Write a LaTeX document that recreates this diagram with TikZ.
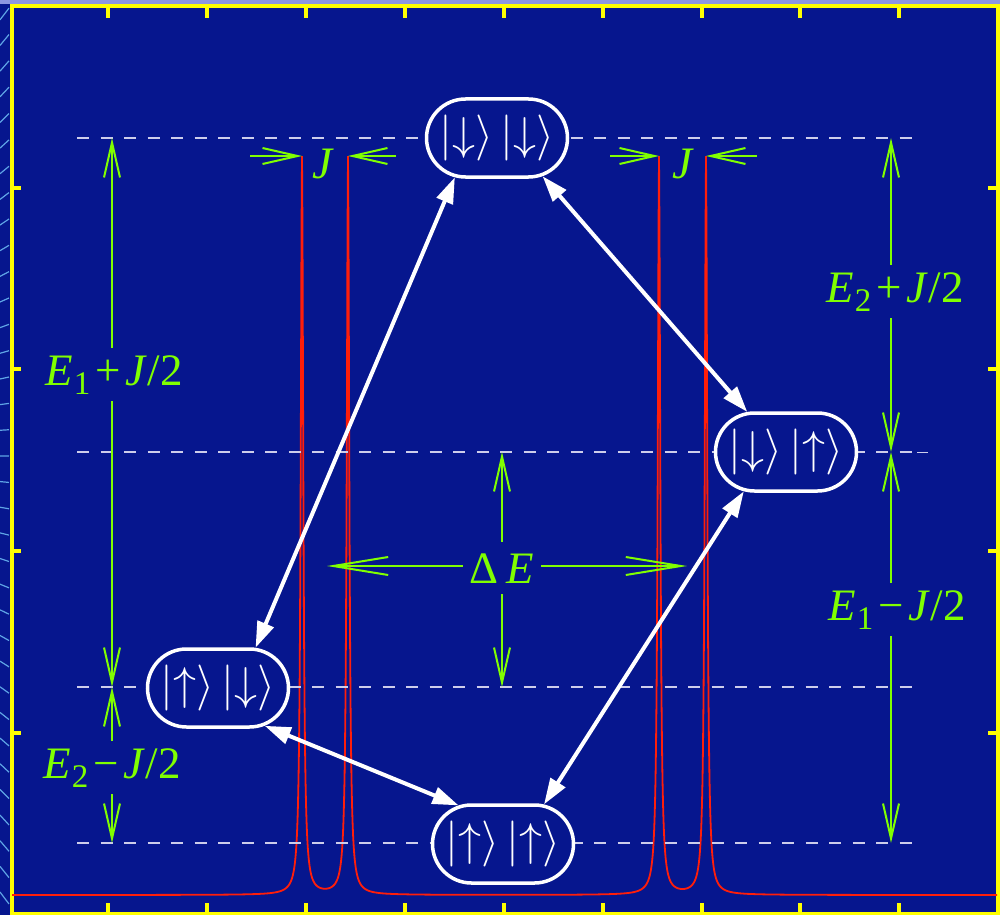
\documentclass[tikz,border=0pt]{standalone}
\usepackage{fontspec}
\newfontfamily\labfont{Liberation Serif}
\usetikzlibrary{arrows.meta,shapes.misc,calc}
\definecolor{bgnavy}{RGB}{6,22,142}
\definecolor{glime}{RGB}{128,255,0}
\definecolor{dashc}{RGB}{205,205,235}
\definecolor{fyellow}{RGB}{255,255,0}
\definecolor{pred}{RGB}{255,30,10}
\definecolor{stripc}{RGB}{95,165,230}
\definecolor{topc}{RGB}{140,150,225}
\newcommand\Elab[2]{{\labfont\fontsize{45}{45}\selectfont\textit{E}\kern1pt\raisebox{-9pt}{\fontsize{33}{33}\selectfont #1}\hspace{5pt}#2\hspace{5pt}\textit{J}/2}}
\newcommand\ketpair[2]{\scalebox{4.6}{$|{#1}\rangle\,|{#2}\rangle$}}
\newcommand\Jlab{{\labfont\fontsize{45}{45}\selectfont\textit{J}}}
\tikzset{
 ketbox/.style={rounded rectangle, draw=white, line width=3.5pt, fill=bgnavy, text=white, minimum width=141pt, minimum height=78pt, inner sep=0pt},
 lvl/.style={dashc, line width=2pt, dash pattern=on 12pt off 11.5pt},
 glab/.style={text=glime, inner xsep=4pt, inner ysep=7pt, anchor=base},
 gline/.style={glime, line width=2pt},
 gtip/.style={-{Straight Barb[length=35pt,width=16pt]}},
 gtipl/.style={-{Straight Barb[length=55pt,width=18pt]}},
 warrow/.style={white, line width=4pt, {Triangle[length=26pt,width=17pt]}-{Triangle[length=26pt,width=17pt]}},
 redline/.style={pred, line width=1.8pt},
 tickmark/.style={fyellow, line width=4pt},
}
\begin{document}
\begin{tikzpicture}[x=1pt,y=-1pt,declare function={lz(\t)=738*pow(1.5/veclen(\t,1.5),2);}]
\useasboundingbox (0,0) rectangle (1006,915);
\fill[bgnavy] (0,0) rectangle (1006,915);
\fill[white] (1000,0) rectangle (1006,915);
\fill[topc] (0,0) rectangle (1000,4);
\foreach \yy in {14,40,...,900} \draw[stripc, line width=1.2pt] (0,{\yy+(450-\yy)/75}) -- (9,{\yy-(450-\yy)/75});
% frame and ticks
\draw[fyellow, line width=3.8pt] (11.7,6.2) rectangle (998,913.5);
\foreach \xx in {108,207,306,405,504,603,702,800,899} {
  \draw[tickmark] (\xx,8) -- (\xx,18);
  \draw[tickmark] (\xx,912) -- (\xx,903);
}
\foreach \yy in {188,369,551,733} {
  \draw[tickmark] (13,\yy) -- (21,\yy);
  \draw[tickmark] (996,\yy) -- (988,\yy);
}
% spectrum
\draw[redline] plot[domain=12:997, samples=1971] (\x,{895-lz(\x-302)-lz(\x-348)-lz(\x-659)-lz(\x-706)});
% levels
\foreach \yy in {138,452,687,843} \draw[lvl] (77,\yy) -- (917,\yy);
\draw[dashc, line width=0.7pt] (917,452) -- (928,452);
% states
\node[ketbox] (dd) at (497,138) {\ketpair{\downarrow}{\downarrow}};
\node[ketbox] (du) at (786,452) {\ketpair{\downarrow}{\uparrow}};
\node[ketbox] (ud) at (218,688) {\ketpair{\uparrow}{\downarrow}};
\node[ketbox] (uu) at (503,844) {\ketpair{\uparrow}{\uparrow}};
% transitions
\draw[warrow] (dd.-137) -- (ud.47);
\draw[warrow] (dd.-40) -- (du.134);
\draw[warrow] (du.-137) -- (uu.44);
\draw[warrow] (ud.-39) -- (uu.139);
% labels
\node[glab] (L1) at (114,385) {\Elab{1}{+}};
\node[glab] (L2) at (112,778) {\Elab{2}{−}};
\node[glab] (L3) at (895,302) {\Elab{2}{+}};
\node[glab] (L4) at (897,620) {\Elab{1}{−}};
\node[glab, inner xsep=7pt, inner ysep=11pt] (DE) at (502,583) {{\labfont\fontsize{45}{45}\selectfont Δ\hspace{8pt}\textit{E}}};
\node[glab] (J1) at (323,178) {\Jlab};
\node[glab] (J2) at (683,178) {\Jlab};
\coordinate (t1) at (112,138); \coordinate (m1) at (112,687); \coordinate (b1) at (112,843);
\coordinate (t2) at (891,138); \coordinate (m2) at (891,452); \coordinate (b2) at (891,843);
\coordinate (d1) at (502,452); \coordinate (d2) at (502,687);
\coordinate (d3) at (327,566); \coordinate (d4) at (687,566);
\draw[gline,gtip] (t1 |- L1.north) -- (t1);
\draw[gline,gtip] (t1 |- L1.south) -- (m1);
\draw[gline,gtip] (t1 |- L2.north) -- (m1);
\draw[gline,gtip] (t1 |- L2.south) -- (b1);
\draw[gline,gtip] (t2 |- L3.north) -- (t2);
\draw[gline,gtip] (t2 |- L3.south) -- (m2);
\draw[gline,gtip] (t2 |- L4.north) -- (m2);
\draw[gline,gtip] (t2 |- L4.south) -- (b2);
\draw[gline,gtip] (d1 |- DE.north) -- (d1);
\draw[gline,gtip] (d1 |- DE.south) -- (d2);
\draw[gline,gtipl] (DE.west |- d3) -- (d3);
\draw[gline,gtipl] (DE.east |- d3) -- (d4);
\coordinate (ja1) at (250,156); \coordinate (ja2) at (302,156);
\coordinate (ja3) at (396,156); \coordinate (ja4) at (348,156);
\coordinate (jb1) at (610,156); \coordinate (jb2) at (659,156);
\coordinate (jb3) at (757,156); \coordinate (jb4) at (706,156);
\draw[gline,gtip] (ja1) -- (ja2);
\draw[gline,gtip] (ja3) -- (ja4);
\draw[gline,gtip] (jb1) -- (jb2);
\draw[gline,gtip] (jb3) -- (jb4);
\end{tikzpicture}
\end{document}
